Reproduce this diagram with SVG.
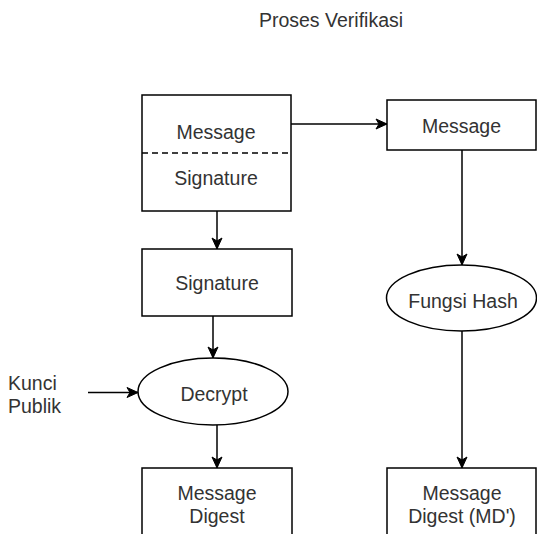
<svg xmlns="http://www.w3.org/2000/svg" width="537" height="534" viewBox="0 0 537 534">
  <style>
    .shape { fill: #ffffff; stroke: #000000; stroke-width: 1.5; }
    .edge { fill: none; stroke: #000000; stroke-width: 1.5; }
    .dash { fill: none; stroke: #000000; stroke-width: 1.5; stroke-dasharray: 6 4; }
    text { font-family: "Liberation Sans", Arial, sans-serif; font-size: 19.5px; fill: #333333; }
    .c { text-anchor: middle; }
  </style>
  <defs>
    <marker id="arrow" markerUnits="userSpaceOnUse" markerWidth="14" markerHeight="12" refX="12" refY="6" orient="auto">
      <path d="M1,1 L12,6 L1,11 L4,6 Z" fill="#000000" stroke="#000000" stroke-width="1"/>
    </marker>
  </defs>
  <rect width="537" height="534" fill="#ffffff"/>

  <g id="title">
    <text class="c" x="331" y="27">Proses Verifikasi</text>
  </g>

  <g id="connectors">
    <line class="edge" x1="291" y1="124" x2="387" y2="124" marker-end="url(#arrow)"/>
    <line class="edge" x1="217" y1="211" x2="217" y2="249" marker-end="url(#arrow)"/>
    <line class="edge" x1="213" y1="316" x2="213" y2="358" marker-end="url(#arrow)"/>
    <line class="edge" x1="88" y1="392.5" x2="138" y2="392.5" marker-end="url(#arrow)"/>
    <line class="edge" x1="217" y1="425" x2="217" y2="468" marker-end="url(#arrow)"/>
    <line class="edge" x1="462" y1="150" x2="462" y2="265" marker-end="url(#arrow)"/>
    <line class="edge" x1="462" y1="331" x2="462" y2="468" marker-end="url(#arrow)"/>
  </g>

  <g id="message-signature">
    <rect class="shape" x="142" y="95" width="149" height="116"/>
    <line class="dash" x1="142" y1="153" x2="291" y2="153"/>
    <text class="c" x="216" y="139">Message</text>
    <text class="c" x="216" y="185">Signature</text>
  </g>

  <g id="message">
    <rect class="shape" x="387" y="100" width="149" height="50"/>
    <text class="c" x="461.5" y="133">Message</text>
  </g>

  <g id="signature">
    <rect class="shape" x="142" y="249" width="150" height="67"/>
    <text class="c" x="217" y="290">Signature</text>
  </g>

  <g id="kunci-publik">
    <text x="8" y="390">Kunci</text>
    <text x="8" y="413">Publik</text>
  </g>

  <g id="decrypt">
    <ellipse class="shape" cx="213" cy="391.5" rx="75" ry="33.5"/>
    <text class="c" x="214" y="401">Decrypt</text>
  </g>

  <g id="fungsi-hash">
    <ellipse class="shape" cx="461.5" cy="298" rx="75" ry="33"/>
    <text class="c" x="463" y="308">Fungsi Hash</text>
  </g>

  <g id="message-digest">
    <rect class="shape" x="142" y="468" width="150" height="90"/>
    <text class="c" x="217" y="500">Message</text>
    <text class="c" x="217" y="523">Digest</text>
  </g>

  <g id="message-digest-md">
    <rect class="shape" x="387" y="468" width="149" height="90"/>
    <text class="c" x="462" y="500">Message</text>
    <text class="c" x="462" y="523">Digest (MD')</text>
  </g>
</svg>
